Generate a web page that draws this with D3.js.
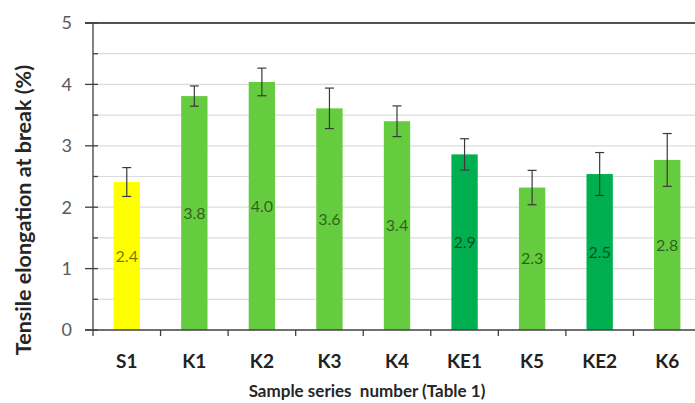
<!DOCTYPE html>
<html>
<head>
<meta charset="utf-8">
<script src="https://cdn.jsdelivr.net/npm/d3@7"></script>
<style>
  html, body { margin: 0; padding: 0; background: #fff; }
  svg { display: block; font-family: Lato, "Open Sans", sans-serif; }
</style>
</head>
<body>
<svg id="chart" width="695" height="403"></svg>
<script>
// Tensile elongation at break for each sample series
const categories = ["S1", "K1", "K2", "K3", "K4", "KE1", "K5", "KE2", "K6"];
const elongation = [2.41, 3.81, 4.04, 3.61, 3.40, 2.86, 2.32, 2.54, 2.77];
const stdDev     = [0.235, 0.165, 0.225, 0.33, 0.25, 0.255, 0.28, 0.35, 0.43];
const barGroup   = ["ref", "K", "K", "K", "K", "KE", "K", "KE", "K"];
const yTicks     = [0, 1, 2, 3, 4, 5];
const yMinor     = [0.5, 1.5, 2.5, 3.5, 4.5];

const groupColor = { ref: "#FFFF00", K: "#66CC3F", KE: "#00B050" };

const svg = d3.select("#chart");
const plot = { left: 93, right: 701, top: 23, bottom: 330 };

const x = d3.scaleBand()
  .domain(categories)
  .range([plot.left, plot.right])
  .paddingInner(0.61)
  .paddingOuter(0.305);

const y = d3.scaleLinear().domain([0, 5]).range([plot.bottom, plot.top]);

// gridlines every 0.5
svg.append("g")
  .selectAll("line")
  .data(yTicks.concat(yMinor).filter(v => v > 0 && v < 5))
  .join("line")
  .attr("x1", plot.left).attr("x2", plot.right)
  .attr("y1", d => y(d)).attr("y2", d => y(d))
  .attr("stroke", "#dcdcdc").attr("stroke-width", 1.2);

// top border of the plot area
svg.append("line")
  .attr("x1", plot.left - 8).attr("x2", plot.right)
  .attr("y1", y(5)).attr("y2", y(5))
  .attr("stroke", "#1a1a1a").attr("stroke-width", 1.6);

// bars
const data = categories.map((c, i) => ({ c, v: elongation[i], sd: stdDev[i], g: barGroup[i] }));

svg.append("g")
  .selectAll("rect")
  .data(data)
  .join("rect")
  .attr("x", d => x(d.c))
  .attr("width", x.bandwidth())
  .attr("y", d => y(d.v))
  .attr("height", d => y(0) - y(d.v))
  .attr("fill", d => groupColor[d.g]);

// value labels centred in the bars
svg.append("g")
  .selectAll("text")
  .data(data)
  .join("text")
  .attr("x", d => x(d.c) + x.bandwidth() / 2)
  .attr("y", d => (y(d.v) + y(0)) / 2)
  .attr("dy", "0.35em")
  .attr("text-anchor", "middle")
  .attr("font-size", 16)
  .attr("fill", "#000")
  .attr("fill-opacity", 0.55)
  .text(d => d3.format(".1f")(d.v));

// error bars
const eb = svg.append("g").attr("stroke", "#3a3a3a").attr("stroke-width", 1.2);
data.forEach(d => {
  const cx = x(d.c) + x.bandwidth() / 2;
  eb.append("line").attr("x1", cx).attr("x2", cx)
    .attr("y1", y(d.v + d.sd)).attr("y2", y(d.v - d.sd));
  [d.v + d.sd, d.v - d.sd].forEach(e => {
    eb.append("line").attr("x1", cx - 4.5).attr("x2", cx + 4.5)
      .attr("y1", y(e)).attr("y2", y(e));
  });
});

// y axis
const yAxis = svg.append("g").attr("transform", `translate(${plot.left},0)`);
yAxis.append("line").attr("y1", y(0)).attr("y2", y(5))
  .attr("stroke", "#404040").attr("stroke-width", 1.3);
yAxis.selectAll(".major").data(yTicks).join("line")
  .attr("x1", -8).attr("x2", 5)
  .attr("y1", d => y(d)).attr("y2", d => y(d))
  .attr("stroke", "#404040").attr("stroke-width", 1.3);
yAxis.selectAll(".minor").data(yMinor).join("line")
  .attr("x1", 0).attr("x2", 5)
  .attr("y1", d => y(d)).attr("y2", d => y(d))
  .attr("stroke", "#404040").attr("stroke-width", 1.3);
yAxis.selectAll("text").data(yTicks).join("text")
  .attr("x", -21).attr("y", d => y(d))
  .attr("dy", "0.35em")
  .attr("text-anchor", "end")
  .attr("font-size", 18)
  .attr("fill", "#595959")
  .text(d => d);

// x axis
const xAxis = svg.append("g").attr("transform", `translate(0,${plot.bottom})`);
xAxis.append("line").attr("x1", plot.left - 8).attr("x2", plot.right)
  .attr("stroke", "#404040").attr("stroke-width", 1.3);
xAxis.selectAll(".tick").data(categories).join("line")
  .attr("x1", d => x(d) - x.step() * x.paddingInner() / 2)
  .attr("x2", d => x(d) - x.step() * x.paddingInner() / 2)
  .attr("y1", 0).attr("y2", 6)
  .attr("stroke", "#404040").attr("stroke-width", 1.3);
xAxis.selectAll("text").data(categories).join("text")
  .attr("x", d => x(d) + x.bandwidth() / 2)
  .attr("y", 38)
  .attr("text-anchor", "middle")
  .attr("font-size", 19)
  .attr("font-weight", "bold")
  .attr("fill", "#222")
  .text(d => d);

// axis titles
svg.append("text")
  .attr("x", 367).attr("y", 397)
  .attr("text-anchor", "middle")
  .attr("font-size", 17)
  .attr("font-weight", "bold")
  .attr("fill", "#262626")
  .attr("xml:space", "preserve")
  .style("white-space", "pre")
  .text("Sample series  number (Table 1)");

svg.append("text")
  .attr("transform", "translate(31,210) rotate(-90)")
  .attr("text-anchor", "middle")
  .attr("font-size", 21.5)
  .attr("font-weight", "bold")
  .attr("fill", "#262626")
  .text("Tensile elongation at break (%)");
</script>
</body>
</html>
